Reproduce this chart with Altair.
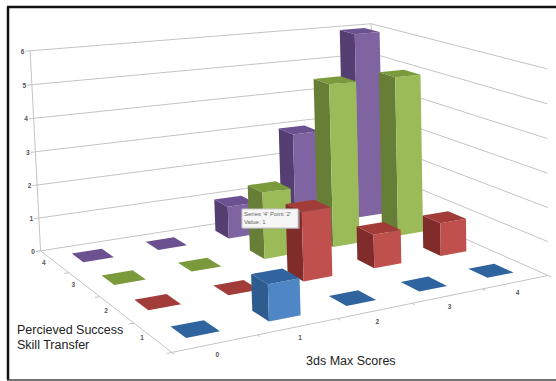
import altair as alt
import numpy as np
import pandas as pd

# Bar heights by series (front to back) and score category
score_labels = ["0", "1", "2", "3", "4"]
series_labels = ["1", "2", "3", "4"]
level_labels = ["0", "1", "2", "3", "4", "5", "6"]
series_1 = [0, 1, 0, 0, 0]
series_2 = [0, 0, 2, 1, 1]
series_3 = [0, 0, 2, 5, 5]
series_4 = [0, 0, 1, 3, 6]
all_series = [series_1, series_2, series_3, series_4]

# (front face, side face, top face) per series
face_colors = [
    ("#4f86c6", "#2f5c8f", "#2f649e"),
    ("#c0504d", "#7f2c2a", "#a23c39"),
    ("#9bbb59", "#667e36", "#7b9a3c"),
    ("#8064a2", "#553f72", "#6c5190"),
]

# Camera calibration: box corners and wall levels in (score, series, level) against the canvas
calib_world = [
    (0, 0, 0), (5, 0, 0), (0, 4, 0), (5, 4, 0),
    (0, 4, 6), (5, 4, 6), (0, 4, 3), (5, 4, 3),
]
calib_canvas = [
    (172, 353), (548, 275), (40, 250), (375, 199),
    (30, 51), (371, 23), (36, 152), (373, 113),
]


def fit_camera(world, canvas):
    rows = []
    for (u, v, z), (px, py) in zip(world, canvas):
        px, py = px / 500, py / 500
        rows.append([u, v, z, 1, 0, 0, 0, 0, -px * u, -px * v, -px * z, -px])
        rows.append([0, 0, 0, 0, u, v, z, 1, -py * u, -py * v, -py * z, -py])
    _, _, vt = np.linalg.svd(np.array(rows, dtype=float))
    return vt[-1].reshape(3, 4)


CAMERA = fit_camera(calib_world, calib_canvas)


def project(u, v, z):
    x, y, w = CAMERA @ np.array([u, v, z, 1.0])
    return [float(500 * x / w), float(500 * y / w)]


def polygon(corners, fill):
    ring = [project(*c) for c in corners]
    ring.append(ring[0])
    return {"type": "Feature", "properties": {"fill": fill},
            "geometry": {"type": "Polygon", "coordinates": [ring]}}


def segment(a, b):
    return {"type": "Feature", "properties": {},
            "geometry": {"type": "LineString", "coordinates": [project(*a), project(*b)]}}


def collection(features):
    return alt.InlineData(values={"type": "FeatureCollection", "features": features},
                          format=alt.DataFormat(property="features", type="json"))


# Walls and floor outline
U_MAX, V_MAX = 5, 4
frame_lines = []
for level in range(7):
    frame_lines.append(segment((0, V_MAX, level), (U_MAX, V_MAX, level)))
    frame_lines.append(segment((U_MAX, V_MAX, level), (U_MAX, 0, level)))
    frame_lines.append(segment((-0.06, V_MAX, level), (0, V_MAX, level)))
frame_lines.append(segment((0, V_MAX, 0), (0, V_MAX, 6)))
frame_lines.append(segment((U_MAX, V_MAX, 0), (U_MAX, V_MAX, 6)))
frame_lines.append(segment((0, 0, 0), (U_MAX, 0, 0)))
frame_lines.append(segment((0, 0, 0), (0, V_MAX, 0)))
for i in range(U_MAX + 1):
    frame_lines.append(segment((i, 0, 0), (i, -0.06, 0)))
for j in range(V_MAX + 1):
    frame_lines.append(segment((0, j, 0), (-0.06, j, 0)))

# Bars, painted from the far corner to the near one
BAR_LO, BAR_HI = 0.3, 0.7
bar_faces = []
for j in reversed(range(len(all_series))):
    front, side, top = face_colors[j]
    for i in reversed(range(len(score_labels))):
        h = all_series[j][i]
        u0, u1, v0, v1 = i + BAR_LO, i + BAR_HI, j + BAR_LO, j + BAR_HI
        if h > 0:
            bar_faces.append(polygon([(u0, v0, 0), (u0, v1, 0), (u0, v1, h), (u0, v0, h)], side))
            bar_faces.append(polygon([(u0, v0, 0), (u1, v0, 0), (u1, v0, h), (u0, v0, h)], front))
        bar_faces.append(polygon([(u0, v0, h), (u1, v0, h), (u1, v1, h), (u0, v1, h)], top))

# Axis tick labels sit a small distance off their axis lines
tick_rows = []
for i, t in enumerate(score_labels):
    px, py = project(i + 0.5, 0, 0)
    tick_rows.append({"px": px + 2, "py": py + 11, "label": t})
for j, t in enumerate(series_labels):
    px, py = project(0, j + 0.5, 0)
    tick_rows.append({"px": px - 10.5, "py": py + 1, "label": t})
for lev, t in enumerate(level_labels):
    px, py = project(0, V_MAX, lev)
    tick_rows.append({"px": px - 7.5, "py": py + 1, "label": t})
tick_table = pd.DataFrame(tick_rows)

title_table = pd.DataFrame({
    "px": [17, 17, 306],
    "py": [330, 345, 361],
    "label": ["Percieved Success", "Skill Transfer", "3ds Max Scores"],
})
tip_table = pd.DataFrame({
    "px": [244, 244],
    "py": [214, 222],
    "label": ["Series '4' Point '2'", "Value: 1"],
})
one_row = pd.DataFrame({"a": [0]})

identity = dict(type="identity", scale=1, translate=[0, 0])

grid_layer = alt.Chart(collection(frame_lines)).mark_geoshape(
    filled=False, stroke="#c4c4c4", strokeWidth=1).project(**identity)
bar_layer = alt.Chart(collection(bar_faces)).mark_geoshape(strokeWidth=0).encode(
    fill=alt.Fill("properties.fill:N", scale=None)).project(**identity)

px_x = alt.X("px:Q", scale=None)
px_y = alt.Y("py:Q", scale=None)
tick_layer = alt.Chart(tick_table).mark_text(
    font="Liberation Sans", fontSize=6.5, fontWeight="bold", color="#555555").encode(
    x=px_x, y=px_y, text="label:N")
title_layer = alt.Chart(title_table).mark_text(
    font="Liberation Sans", fontSize=12.5, color="#222222", align="left").encode(
    x=px_x, y=px_y, text="label:N")

tip_shadow = alt.Chart(one_row).mark_rect(color="#9a9a9a", opacity=0.6).encode(
    x=alt.value(243), x2=alt.value(300), y=alt.value(210), y2=alt.value(229))
tip_box = alt.Chart(one_row).mark_rect(color="#f6f6f6", stroke="#c8c8c8", strokeWidth=1).encode(
    x=alt.value(242), x2=alt.value(298), y=alt.value(209), y2=alt.value(228))
tip_text = alt.Chart(tip_table).mark_text(
    font="Liberation Sans", fontSize=6, color="#666666", align="left").encode(
    x=px_x, y=px_y, text="label:N")

border_left = alt.Chart(one_row).mark_rule(color="#111111", strokeWidth=2.5).encode(
    x=alt.value(8), y=alt.value(7), y2=alt.value(380))
border_top = alt.Chart(one_row).mark_rule(color="#111111", strokeWidth=2.5).encode(
    x=alt.value(7), x2=alt.value(556), y=alt.value(7))
border_bottom = alt.Chart(one_row).mark_rule(color="#444444", strokeWidth=1.5).encode(
    x=alt.value(7), x2=alt.value(556), y=alt.value(380))

chart = alt.layer(
    grid_layer, bar_layer, tick_layer, title_layer,
    tip_shadow, tip_box, tip_text,
    border_left, border_top, border_bottom,
).properties(
    width=556, height=381, padding=0, autosize=alt.AutoSizeParams(type="none"),
    background="white",
).configure_view(strokeWidth=0)

chart.save("out.html", embed_options={"renderer": "svg", "actions": False})
